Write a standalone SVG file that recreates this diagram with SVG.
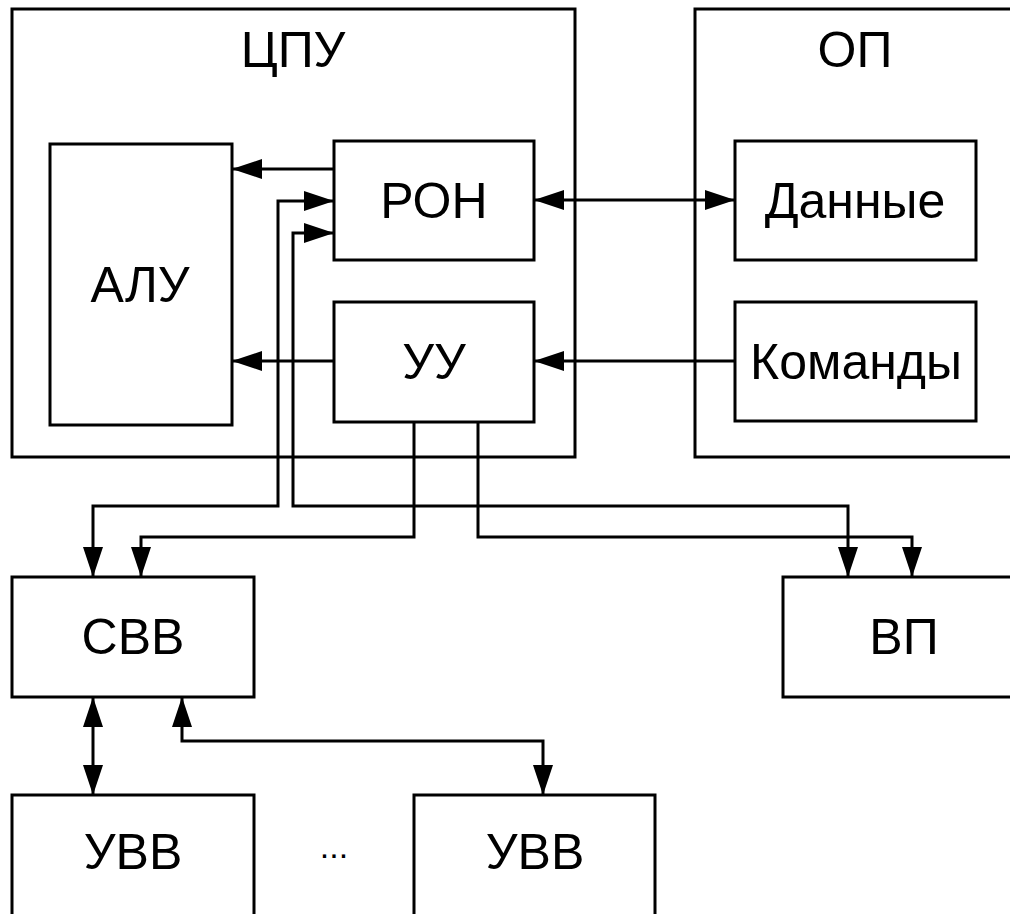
<svg xmlns="http://www.w3.org/2000/svg" width="1010" height="914" viewBox="0 0 1010 914">
<style>
.box{fill:none;stroke:#000;stroke-width:3;stroke-linejoin:miter}
.lbl{font-family:"Liberation Sans",Arial,sans-serif;font-size:50px;fill:#000;text-anchor:middle}
.con{fill:none;stroke:#000;stroke-width:3;stroke-linejoin:miter}
</style>
<defs>
<marker id="ah" viewBox="0 0 30 20" refX="30" refY="10" markerWidth="30" markerHeight="20" markerUnits="userSpaceOnUse" orient="auto-start-reverse">
<path d="M0 0 L30 10 L0 20 z" fill="#000"/>
</marker>
</defs>
<rect width="1010" height="914" fill="#fff"/>
<g id="cpu"><rect class="box" x="12" y="9" width="563" height="448"/><text class="lbl" x="293" y="67">ЦПУ</text></g>
<g id="op"><rect class="box" x="695" y="9" width="330" height="448"/><text class="lbl" x="855" y="67">ОП</text></g>
<g id="alu"><rect class="box" x="50" y="144" width="182" height="281"/><text class="lbl" x="140" y="302">АЛУ</text></g>
<g id="ron"><rect class="box" x="334" y="141" width="200" height="119"/><text class="lbl" x="434" y="218">РОН</text></g>
<g id="uu"><rect class="box" x="334" y="302" width="200" height="120"/><text class="lbl" x="434" y="379">УУ</text></g>
<g id="dannye"><rect class="box" x="735" y="141" width="241" height="119"/><text class="lbl" x="855" y="218">Данные</text></g>
<g id="komandy"><rect class="box" x="735" y="302" width="241" height="119"/><text class="lbl" x="856" y="379">Команды</text></g>
<g id="svv"><rect class="box" x="12" y="577" width="242" height="120"/><text class="lbl" x="133" y="654">СВВ</text></g>
<g id="vp"><rect class="box" x="783" y="577" width="240" height="120"/><text class="lbl" x="904" y="654">ВП</text></g>
<g id="uvv1"><rect class="box" x="12" y="795" width="242" height="130"/><text class="lbl" x="133" y="869">УВВ</text></g>
<g id="uvv2"><rect class="box" x="414" y="795" width="241" height="130"/><text class="lbl" x="535" y="869">УВВ</text></g>
<g id="dots"><text x="334" y="858" style="font-family:'Liberation Sans',Arial,sans-serif;font-size:34px;text-anchor:middle">...</text></g>
<g id="connectors">
<path class="con" d="M334 169 L232 169" marker-end="url(#ah)"/>
<path class="con" d="M334 361 L232 361" marker-end="url(#ah)"/>
<path class="con" d="M534 200 L735 200" marker-start="url(#ah)" marker-end="url(#ah)"/>
<path class="con" d="M735 361 L534 361" marker-end="url(#ah)"/>
<path class="con" d="M93 577 L93 506 L278 506 L278 201 L334 201" marker-start="url(#ah)" marker-end="url(#ah)"/>
<path class="con" d="M334 233 L293 233 L293 506 L848 506 L848 577" marker-start="url(#ah)" marker-end="url(#ah)"/>
<path class="con" d="M414 422 L414 537 L141 537 L141 577" marker-end="url(#ah)"/>
<path class="con" d="M478 422 L478 537 L912 537 L912 577" marker-end="url(#ah)"/>
<path class="con" d="M93 697 L93 795" marker-start="url(#ah)" marker-end="url(#ah)"/>
<path class="con" d="M182 697 L182 741 L543 741 L543 795" marker-start="url(#ah)" marker-end="url(#ah)"/>
</g>
</svg>
